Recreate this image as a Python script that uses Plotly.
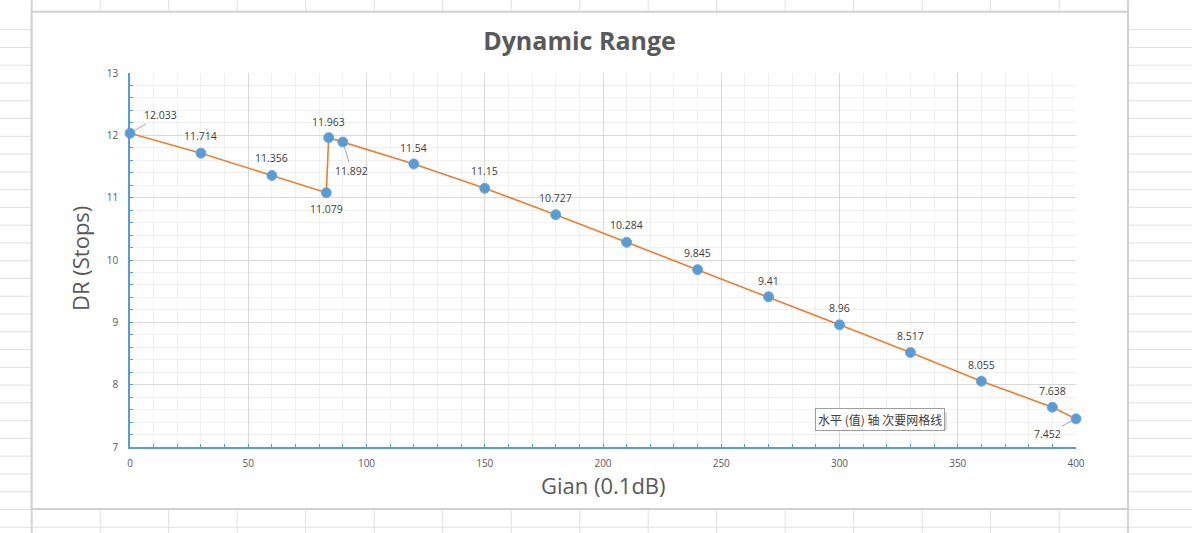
import plotly.graph_objects as go

# data
gain = [0, 30, 60, 83, 84, 90, 120, 150, 180, 210, 240, 270, 300, 330, 360, 390, 400]
dr = [12.033, 11.714, 11.356, 11.079, 11.963, 11.892, 11.54, 11.15, 10.727,
      10.284, 9.845, 9.41, 8.96, 8.517, 8.055, 7.638, 7.452]
x_ticks = [0, 50, 100, 150, 200, 250, 300, 350, 400]
y_ticks = [7, 8, 9, 10, 11, 12, 13]

W, H = 1192, 533
L, R, T, B = 130, 1076, 73, 447   # plot area in px

def px(x):
    return (x - L) / (R - L)

def py(y):
    return (B - y) / (B - T)

blue = "#5B9BD5"
orange = "#ED7D31"
txt = "#595959"
font = "Open Sans"

fig = go.Figure()
fig.add_trace(go.Scatter(
    x=gain, y=dr, mode="lines+markers", cliponaxis=False,
    line=dict(color=orange, width=1.6),
    marker=dict(color=blue, size=10, line=dict(color="#6FA8DC", width=1)),
    hoverinfo="x+y", showlegend=False,
))

# data labels (offsets in px); leader lines where Excel moved the label away
label_off = [(30, -18), (0, -17), (0, -17), (0, 16), (0, -16), (9, 29), (0, -16),
             (0, -17), (0, -17), (0, -17), (0, -17), (0, -16), (0, -17), (0, -16),
             (0, -16), (0, -16), (-29, 15)]
leader = [True, False, False, False, False, True, False, False, False, False,
          False, False, False, False, False, False, True]
for xv, yv, (ox, oy), ld in zip(gain, dr, label_off, leader):
    fig.add_annotation(
        x=xv, y=yv, text=f"{yv:g}", showarrow=True, ax=ox, ay=oy,
        arrowhead=0, arrowwidth=1,
        arrowcolor="#A6A6A6" if ld else "rgba(0,0,0,0)",
        standoff=5 if ld else 0,
        font=dict(family=font, size=10.5, color="#404040"),
    )

# Excel sheet cells behind the chart
shapes = []
cell = "#E1E1E1"
rows = [29.7 + 17.77 * k for k in range(29)]
cols = [31.7 + 68.5 * k for k in range(18)]
for yr in rows:
    shapes.append(dict(type="line", xref="paper", yref="paper", x0=px(0), x1=px(31.7),
                       y0=py(yr), y1=py(yr), line=dict(color=cell, width=1), layer="below"))
    shapes.append(dict(type="line", xref="paper", yref="paper", x0=px(1128), x1=px(W),
                       y0=py(yr), y1=py(yr), line=dict(color=cell, width=1), layer="below"))
    if yr > 509:
        shapes.append(dict(type="line", xref="paper", yref="paper", x0=px(31.7), x1=px(1128),
                           y0=py(yr), y1=py(yr), line=dict(color=cell, width=1), layer="below"))
for xc in cols:
    shapes.append(dict(type="line", xref="paper", yref="paper", x0=px(xc), x1=px(xc),
                       y0=py(0), y1=py(11.7), line=dict(color=cell, width=1), layer="below"))
    shapes.append(dict(type="line", xref="paper", yref="paper", x0=px(xc), x1=px(xc),
                       y0=py(509), y1=py(H), line=dict(color=cell, width=1), layer="below"))
shapes.append(dict(type="line", xref="paper", yref="paper", x0=px(31.7), x1=px(31.7),
                   y0=py(0), y1=py(H), line=dict(color="#D4D4D4", width=2), layer="below"))
shapes.append(dict(type="line", xref="paper", yref="paper", x0=px(1128), x1=px(1128),
                   y0=py(0), y1=py(H), line=dict(color="#D4D4D4", width=2), layer="below"))
# chart area
shapes.append(dict(type="rect", xref="paper", yref="paper", x0=px(31.7), x1=px(1128),
                   y0=py(509), y1=py(11.7), fillcolor="white",
                   line=dict(color="#D0D0D0", width=2), layer="below"))
# soft shadow of the hover tooltip
shapes.append(dict(type="rect", xref="paper", yref="paper", x0=px(818), x1=px(947),
                   y0=py(430), y1=py(412), fillcolor="#DADADA", line=dict(width=0),
                   layer="above"))
fig.update_layout(shapes=shapes)

# Excel hover tooltip
fig.add_annotation(
    xref="paper", yref="paper", x=px(880), y=py(419), xanchor="center", yanchor="middle",
    showarrow=False, text="水平 (值) 轴 次要网格线", bgcolor="white",
    bordercolor="#9E9E9E", borderwidth=1, borderpad=2,
    font=dict(family="Noto Sans CJK SC", size=12, color="#404040"),
)

# axis titles
fig.add_annotation(xref="paper", yref="paper", x=px(603), y=py(485), xanchor="center",
                   yanchor="middle", showarrow=False, text="Gian (0.1dB)",
                   font=dict(family=font, size=22, color=txt))
fig.add_annotation(xref="paper", yref="paper", x=px(80), y=py(259), xanchor="center",
                   yanchor="middle", showarrow=False, text="DR (Stops)", textangle=-90,
                   font=dict(family=font, size=22, color=txt))

fig.update_layout(
    width=W, height=H,
    margin=dict(l=L, r=W - R, t=T, b=H - B),
    paper_bgcolor="white", plot_bgcolor="white",
    title=dict(text="<b>Dynamic Range</b>", x=px(579.5), xref="paper", xanchor="center",
               y=1 - 41 / H, yref="container", yanchor="middle",
               font=dict(family=font, size=25, color=txt)),
    xaxis=dict(range=[0, 400], tickvals=x_ticks, showgrid=True, gridcolor="#D9D9D9",
               gridwidth=1, showline=True, linecolor=blue, linewidth=1.5,
               ticks="inside", ticklen=3, tickcolor=blue, zeroline=False,
               minor=dict(dtick=10, showgrid=True, gridcolor="#F0F0F0", ticks="inside",
                          ticklen=3, tickcolor=blue),
               tickfont=dict(family=font, size=10, color=txt), ticklabelstandoff=6),
    yaxis=dict(range=[7, 13], tickvals=y_ticks, showgrid=True, gridcolor="#D9D9D9",
               gridwidth=1, showline=True, linecolor=blue, linewidth=1.5,
               ticks="inside", ticklen=3, tickcolor=blue, zeroline=False,
               minor=dict(dtick=0.2, showgrid=True, gridcolor="#F0F0F0", ticks="inside",
                          ticklen=3, tickcolor=blue),
               tickfont=dict(family=font, size=10, color=txt), ticklabelstandoff=8),
)

# drop the default 8px page margin so the figure sits at the window's corner
fig.write_html("out.html", config={"displayModeBar": False},
               post_script="document.body.style.margin='0';")
